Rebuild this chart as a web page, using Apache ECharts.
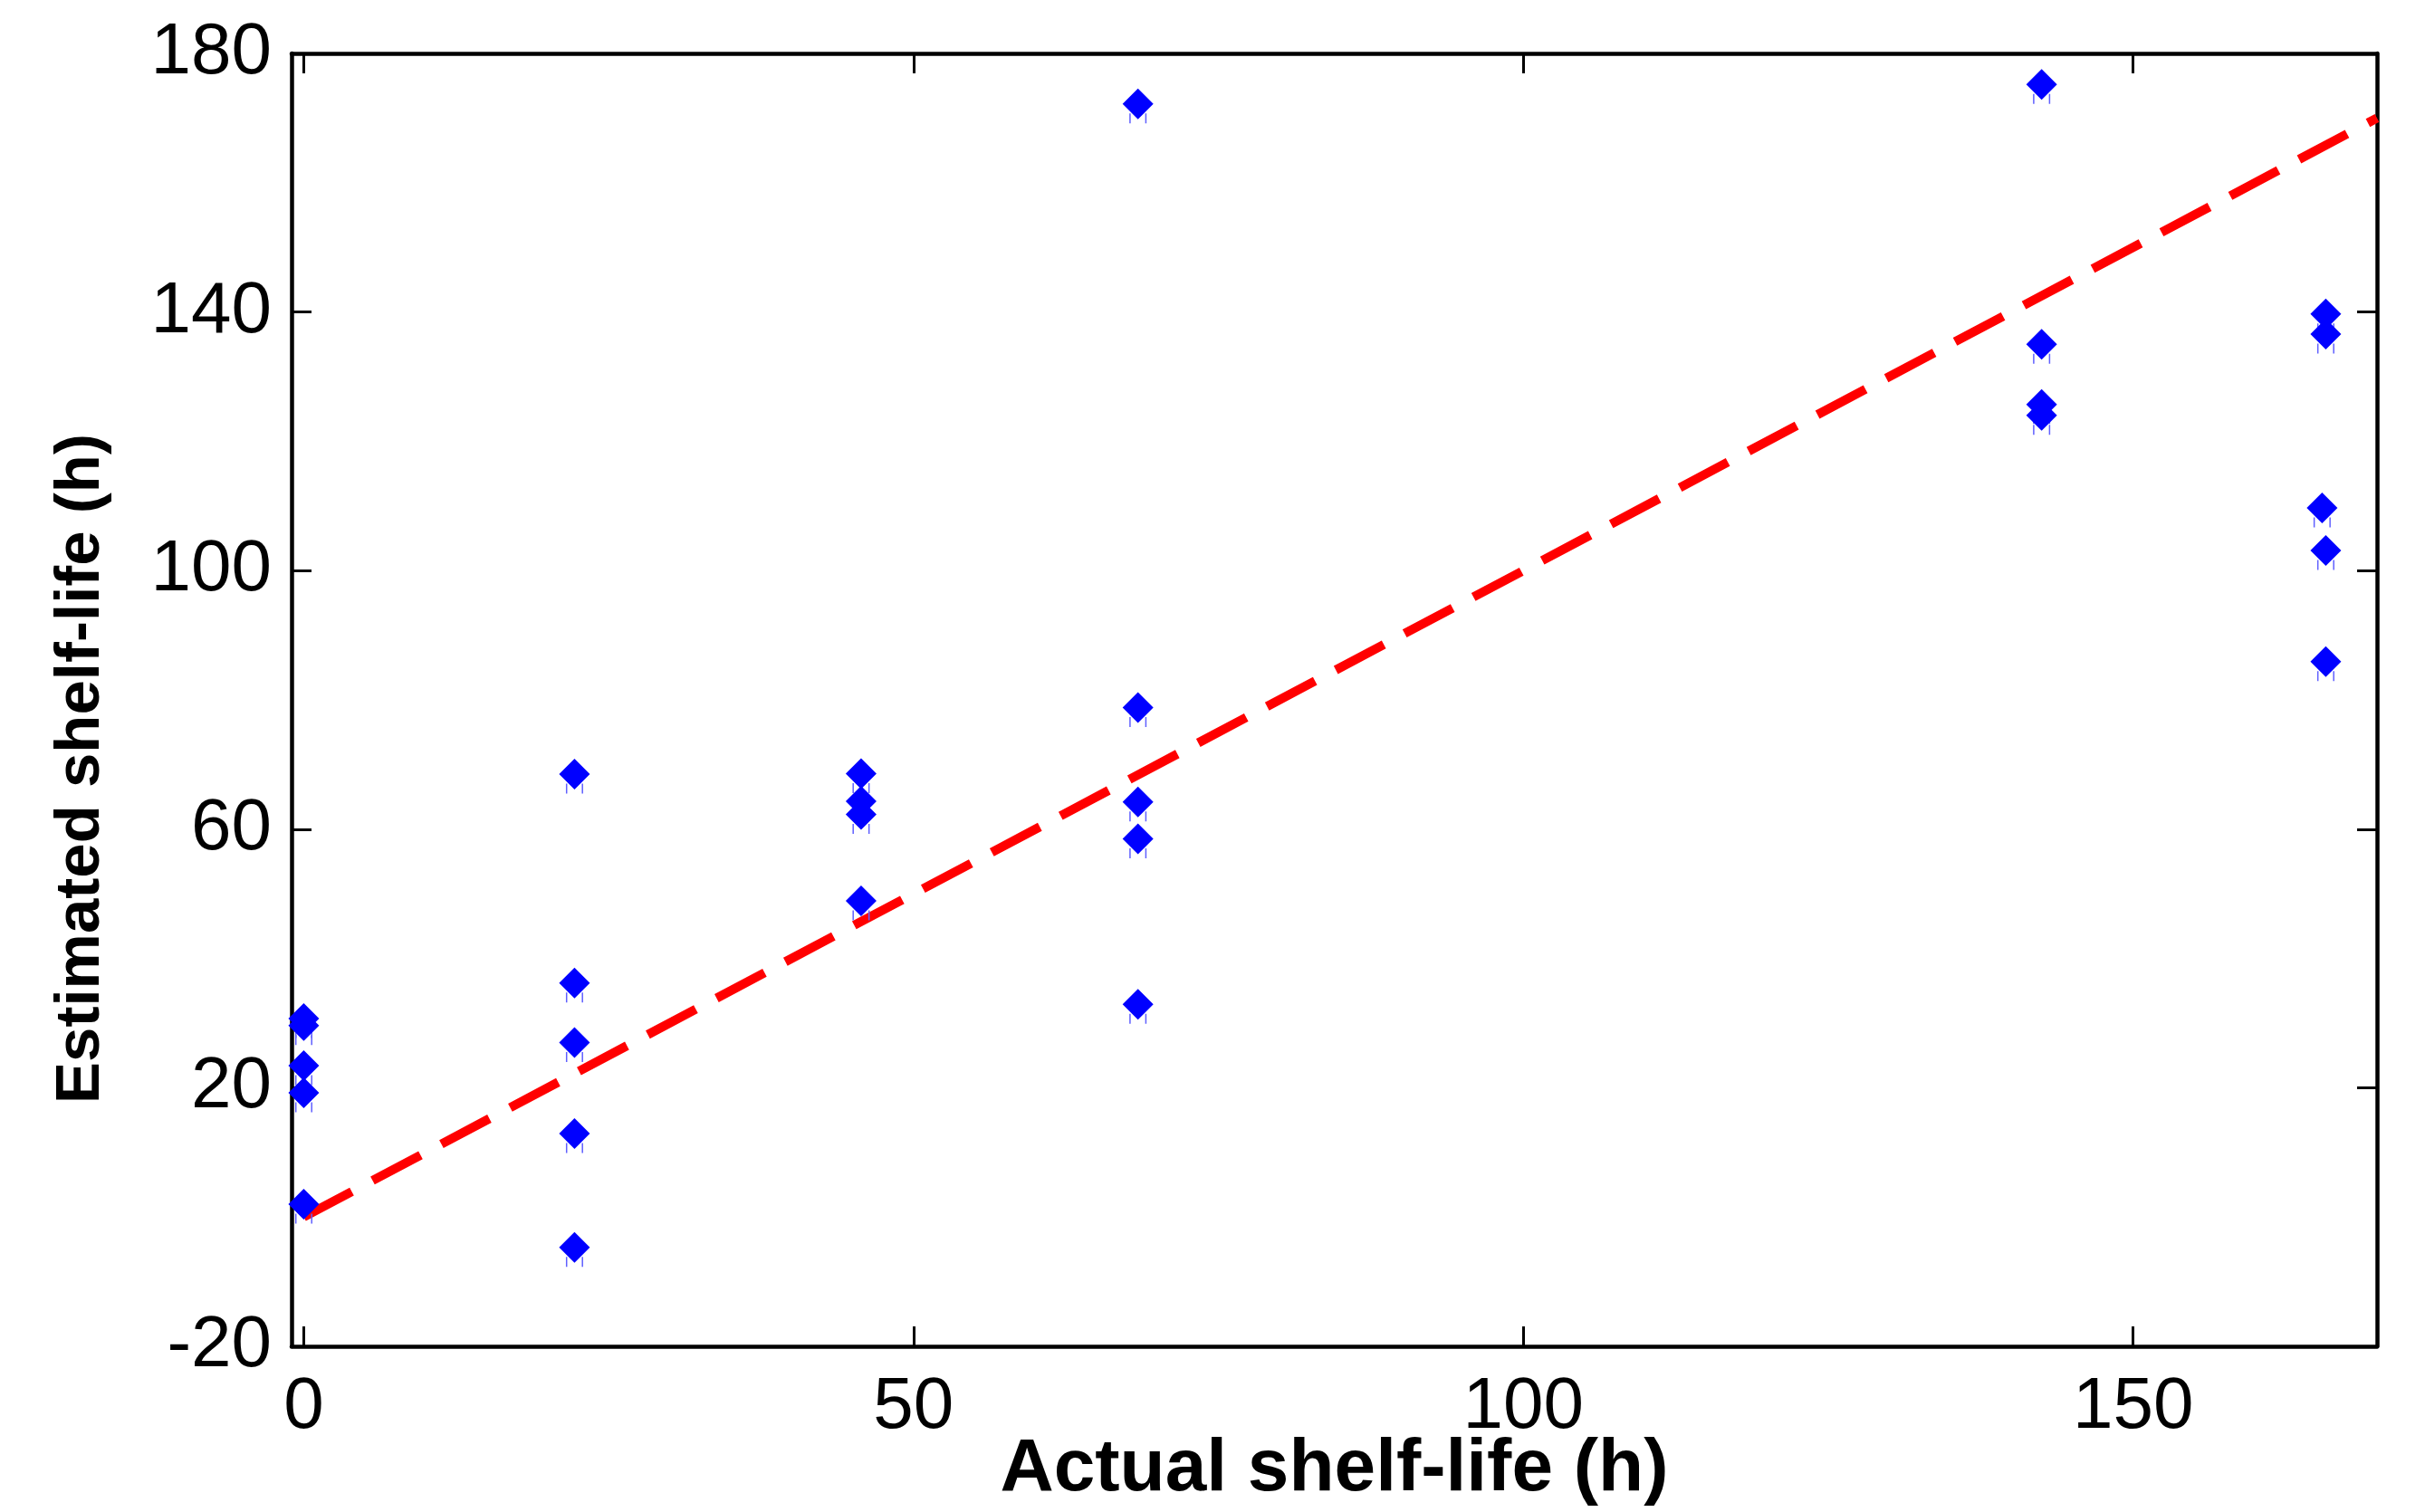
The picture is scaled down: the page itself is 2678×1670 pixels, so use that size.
<!DOCTYPE html>
<html>
<head>
<meta charset="utf-8">
<script src="https://cdn.jsdelivr.net/npm/echarts@6/dist/echarts.min.js"></script>
<style>
  html, body { margin: 0; padding: 0; background: #fff; }
  #chart { width: 2678px; height: 1670px; }
</style>
</head>
<body>
<div id="chart"></div>
<script>
// values
const actualShelfLife = [
  0, 0, 0, 0, 0,
  22.2, 22.2, 22.2, 22.2, 22.2,
  45.7, 45.7, 45.7, 45.7,
  68.4, 68.4, 68.4, 68.4, 68.4,
  142.5, 142.5, 142.5, 142.5,
  165.8, 165.8, 165.5, 165.8, 165.8
];
const estimatedShelfLife = [
  30.7, 29.6, 23.4, 19.2, 2.0,
  68.5, 36.2, 27.0, 12.9, -4.7,
  68.6, 64.3, 62.3, 48.9,
  172.2, 78.8, 64.2, 58.5, 32.9,
  175.2, 135.0, 125.7, 124.0,
  139.7, 136.6, 109.7, 103.1, 85.9
];
// ideal y = x line
const lineX = [0, 170];
const lineY = [0, 170];

const xTicks = [0, 50, 100, 150];

const points = actualShelfLife.map((x, i) => [x, estimatedShelfLife[i]]);
const linePoints = lineX.map((x, i) => [x, lineY[i]]);

const font = 'Liberation Sans, Arial, sans-serif';

function axisLine() {
  return { show: true, onZero: false, lineStyle: { color: '#000', width: 4.5 } };
}
function axisTick(custom) {
  const t = { show: true, inside: true, length: 22, lineStyle: { color: '#000', width: 3 } };
  if (custom) t.customValues = custom;
  return t;
}

const chart = echarts.init(document.getElementById('chart'));

chart.setOption({
  animation: false,
  backgroundColor: '#fff',
  grid: { left: 322, right: 53, top: 59, bottom: 183, outerBoundsMode: 'none', containLabel: false },
  xAxis: [
    {
      type: 'value', min: -1, max: 170, position: 'bottom',
      name: 'Actual shelf-life (h)', nameLocation: 'middle', nameGap: 95, nameMoveOverlap: false,
      nameTextStyle: { fontFamily: font, fontWeight: 'bold', fontSize: 82, color: '#000' },
      axisLine: axisLine(),
      axisTick: axisTick(xTicks),
      axisLabel: { customValues: xTicks, margin: 28, fontFamily: font, fontSize: 80, color: '#000' },
      splitLine: { show: false }
    },
    {
      type: 'value', min: -1, max: 170, position: 'top',
      axisLine: axisLine(),
      axisTick: axisTick(xTicks),
      axisLabel: { show: false, customValues: xTicks },
      splitLine: { show: false }
    }
  ],
  yAxis: [
    {
      type: 'value', min: -20, max: 180, interval: 40, position: 'left',
      name: 'Estimated shelf-life (h)', nameLocation: 'middle', nameGap: 198, nameRotate: 90, nameMoveOverlap: false,
      nameTextStyle: { fontFamily: font, fontWeight: 'bold', fontSize: 69, color: '#000', padding: [0, 152, 0, 0] },
      axisLine: axisLine(),
      axisTick: axisTick(),
      axisLabel: { margin: 22, fontFamily: font, fontSize: 80, color: '#000' },
      splitLine: { show: false }
    },
    {
      type: 'value', min: -20, max: 180, interval: 40, position: 'right',
      axisLine: axisLine(),
      axisTick: axisTick(),
      axisLabel: { show: false },
      splitLine: { show: false }
    }
  ],
  series: [
    {
      name: 'ideal',
      type: 'line',
      data: linePoints,
      symbol: 'none',
      z: 2,
      lineStyle: { color: '#ff0000', width: 10, type: [60, 26] }
    },
    {
      // thin stems under each marker
      name: 'stems',
      type: 'scatter',
      data: points,
      symbol: 'path://M0,0 L1.5,0 L1.5,10 L0,10 Z M17.5,0 L19,0 L19,10 L17.5,10 Z',
      symbolSize: [19, 11],
      symbolOffset: [0, 16],
      itemStyle: { color: '#6060ff', opacity: 1 },
      z: 3
    },
    {
      name: 'samples',
      type: 'scatter',
      data: points,
      symbol: 'diamond',
      symbolSize: 34,
      itemStyle: { color: '#0000ff', opacity: 1 },
      z: 4
    }
  ]
});
</script>
</body>
</html>
